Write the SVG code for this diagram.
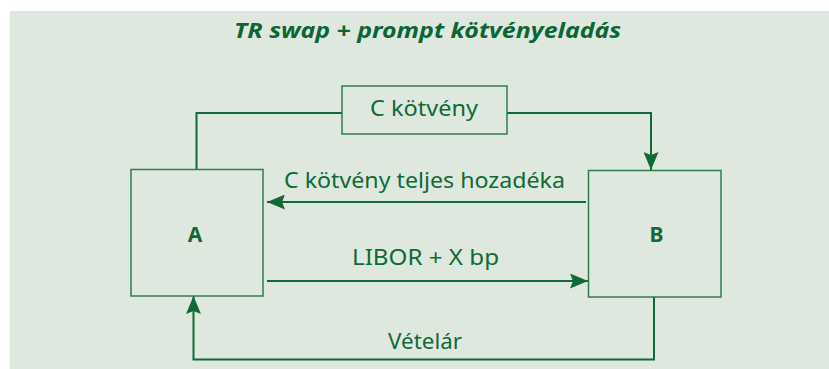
<svg xmlns="http://www.w3.org/2000/svg" width="829" height="369" viewBox="0 0 829 369">
  <style>
    .bg { fill: #dee8de; }
    .box { fill: none; stroke: #2f7d4c; stroke-width: 1.5; }
    .line { fill: none; stroke: #0f6a36; stroke-width: 2; }
    .t { font-family: "Noto Sans", "Liberation Sans", sans-serif; font-size: 21px; fill: #0f6a36; }
    .lbl { font-family: "Noto Sans", "Liberation Sans", sans-serif; font-size: 21px; fill: #0f6a36; font-weight: bold; text-anchor: middle; }
    .title { font-family: "Noto Sans", "Liberation Sans", sans-serif; font-size: 22px; font-style: italic; font-weight: bold; fill: #0a6634; }
  </style>
  <defs>
    <marker id="arr" viewBox="0 0 18 15" refX="18" refY="7.5" markerWidth="18" markerHeight="15" markerUnits="userSpaceOnUse" orient="auto">
      <path d="M0,0 L18,7.5 L0,15 L3,7.5 Z" fill="#0f6a36"/>
    </marker>
  </defs>
  <rect class="bg" x="10" y="11" width="819" height="358"/>
  <text class="title" x="234" y="38" textLength="387" lengthAdjust="spacingAndGlyphs">TR swap + prompt kötvényeladás</text>

  <g id="connectors">
    <polyline class="line" points="196.5,169 196.5,113 342,113"/>
    <polyline class="line" points="507,113 651,113 651,170" marker-end="url(#arr)"/>
    <line class="line" x1="586" y1="202" x2="267" y2="202" marker-end="url(#arr)"/>
    <line class="line" x1="267" y1="281" x2="588" y2="281" marker-end="url(#arr)"/>
    <polyline class="line" points="654,297 654,359.5 193.5,359.5 193.5,296" marker-end="url(#arr)"/>
    <text class="t" x="284" y="187.5" textLength="281" lengthAdjust="spacingAndGlyphs">C kötvény teljes hozadéka</text>
    <text class="t" x="352" y="265" textLength="147" lengthAdjust="spacingAndGlyphs">LIBOR + X bp</text>
    <text class="t" x="388" y="349" textLength="74" lengthAdjust="spacingAndGlyphs">Vételár</text>
  </g>

  <g id="node-c">
    <rect class="box" x="342" y="86" width="165" height="48"/>
    <text class="t" x="370" y="115.5" textLength="108" lengthAdjust="spacingAndGlyphs">C kötvény</text>
  </g>
  <g id="node-a">
    <rect class="box" x="131" y="169.5" width="132" height="126.5"/>
    <text class="lbl" x="195" y="242">A</text>
  </g>
  <g id="node-b">
    <rect class="box" x="588.5" y="170.5" width="132.5" height="126.5"/>
    <text class="lbl" x="656.5" y="241.5">B</text>
  </g>
</svg>
